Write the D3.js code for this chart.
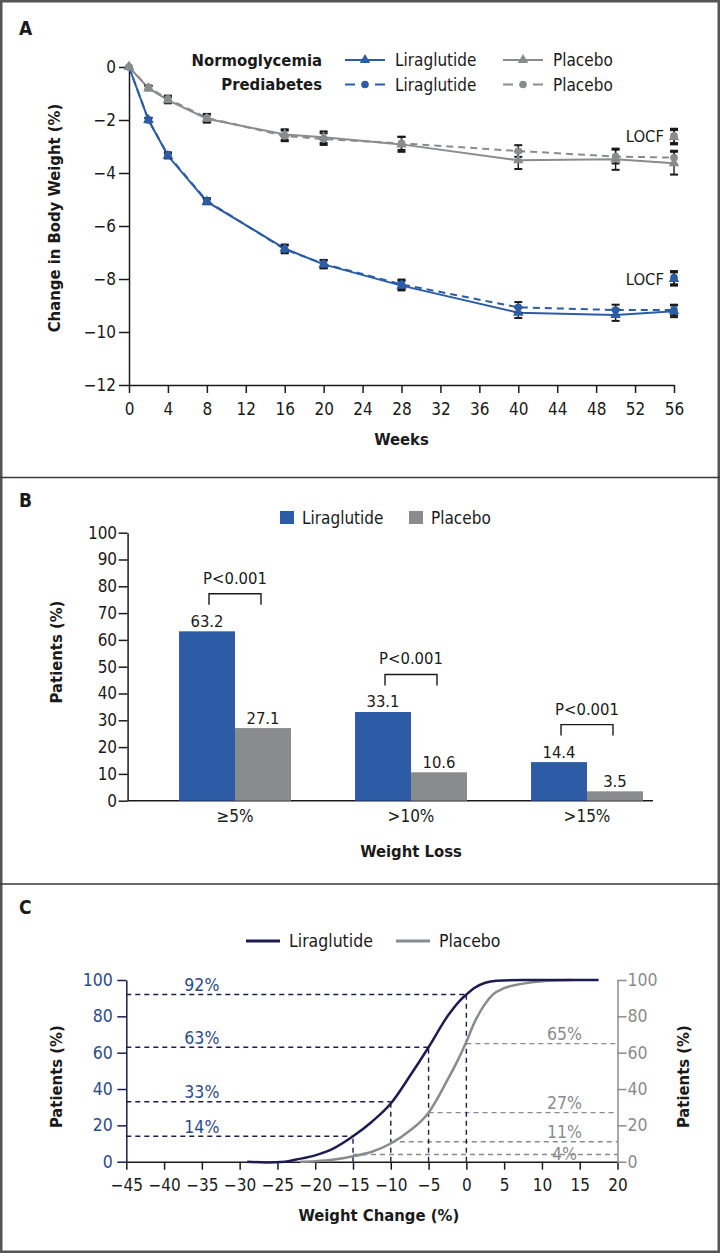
<!DOCTYPE html>
<html>
<head>
<meta charset="utf-8">
<script src="https://cdn.jsdelivr.net/npm/d3@7"></script>
<style>
body { margin: 0; background: #fff; }
svg text { font-family: "DejaVu Sans Condensed", "DejaVu Sans", sans-serif; font-stretch: condensed; }
</style>
</head>
<body>
<div id="canvas"></div>
<script>
// ---- panel A : change in body weight over time ----
var weeks = [0, 2, 4, 8, 16, 20, 28, 40, 50, 56];
var liraNormo = [0, -2.0, -3.35, -5.08, -6.85, -7.45, -8.25, -9.27, -9.36, -9.22];
var liraNormoErr = [0, 0.08, 0.1, 0.1, 0.15, 0.15, 0.18, 0.2, 0.22, 0.22];
var liraPre = [0, -2.0, -3.32, -5.05, -6.88, -7.43, -8.2, -9.07, -9.17, -9.17];
var liraPreErr = [0, 0.08, 0.1, 0.1, 0.15, 0.15, 0.18, 0.2, 0.2, 0.2];
var placeboNormo = [0, -0.8, -1.25, -1.95, -2.55, -2.65, -2.92, -3.52, -3.48, -3.63];
var placeboNormoErr = [0, 0.08, 0.12, 0.15, 0.2, 0.22, 0.28, 0.33, 0.4, 0.43];
var placeboPre = [0, -0.78, -1.2, -1.92, -2.6, -2.72, -2.88, -3.17, -3.38, -3.42];
var placeboPreErr = [0, 0.08, 0.12, 0.15, 0.2, 0.22, 0.25, 0.22, 0.26, 0.26];
var locfLira = [-8.0, -7.95];
var locfPlacebo = [-2.65, -2.6];
var locfErr = [0.25, 0.27];
var weekTicks = [0, 4, 8, 12, 16, 20, 24, 28, 32, 36, 40, 44, 48, 52, 56];
var changeTicks = [0, -2, -4, -6, -8, -10, -12];

// ---- panel B : patients reaching weight loss thresholds ----
var lossCats = ["\u22655%", ">10%", ">15%"];
var liraLoss = [63.2, 33.1, 14.4];
var placeboLoss = [27.1, 10.6, 3.5];
var pLabels = ["P<0.001", "P<0.001", "P<0.001"];
var patientTicks = [0, 10, 20, 30, 40, 50, 60, 70, 80, 90, 100];

// ---- panel C : cumulative distribution of weight change ----
var cdfLiraX = [-29, -26.5, -24, -22.5, -20, -17.5, -15, -12.5, -10, -7.5, -5, -2.5, -1, 0, 1, 2.5, 4, 7.5, 17.5];
var cdfLiraY = [0, -0.4, 0, 1.2, 3.5, 7.5, 14, 22, 32, 47, 63, 80, 88, 92, 95.5, 98.5, 99.6, 100, 100];
var cdfPlaceboX = [-22, -20, -17.5, -15, -12.5, -10, -7.5, -5, -2.5, -1, 0, 1, 2.5, 3.5, 5, 7.5, 10, 14];
var cdfPlaceboY = [0, 0.3, 1.2, 3, 5.5, 10, 17, 27, 45, 57, 66, 76, 87, 92, 95.5, 98, 99.3, 100];
var cutoffs = [-15, -10, -5, 0];
var liraAtCut = [14, 33, 63, 92];
var placeboAtCut = [4, 11, 27, 65];
var changeCTicks = [-45, -40, -35, -30, -25, -20, -15, -10, -5, 0, 5, 10, 15, 20];
var pctTicks = [0, 20, 40, 60, 80, 100];

var _width = 720;
var _height = 1253;
var _blue = "#2b5ca5";
var _gray = "#8a8b8d";
var _navy = "#1c1c52";
var _ink = "#1a1a1a";

var svg = d3.select('#canvas').append('svg')
    .attr('width', _width)
    .attr('height', _height);

// frame and separators
svg.append('rect')
    .attr('x', 1.25).attr('y', 1.25)
    .attr('width', _width - 2.5).attr('height', _height - 2.5)
    .attr('fill', 'none').attr('stroke', '#555').attr('stroke-width', 2.5);
[477.5, 884].forEach(function (yy) {
    svg.append('line').attr('x1', 0).attr('x2', _width).attr('y1', yy).attr('y2', yy)
        .attr('stroke', '#3a3a3a').attr('stroke-width', 1.5);
});

function panelLabel(t, yy) {
    svg.append('text').text(t)
        .attr('x', 19).attr('y', yy).attr('dy', '0.36em')
        .attr('font-size', 19).attr('font-weight', 'bold').attr('fill', _ink);
}

function styleAxis(g, size, color, textColor) {
    g.selectAll('.domain, .tick line').attr('stroke', color).attr('stroke-width', 1.5);
    g.selectAll('.tick text').attr('font-size', size).attr('fill', textColor || color);
}

function rotTitle(t, xx, yy) {
    svg.append('text').text(t)
        .attr('transform', 'translate(' + xx + ',' + yy + ') rotate(-90)')
        .attr('text-anchor', 'middle').attr('dy', '0.36em')
        .attr('font-size', 16.5).attr('font-weight', 'bold').attr('fill', _ink);
}

function title(t, xx, yy) {
    svg.append('text').text(t)
        .attr('x', xx).attr('y', yy).attr('dy', '0.36em')
        .attr('text-anchor', 'middle')
        .attr('font-size', 16.5).attr('font-weight', 'bold').attr('fill', _ink);
}

function label(g, t, xx, yy, size, color, anchor) {
    return g.append('text').text(t)
        .attr('x', xx).attr('y', yy).attr('dy', '0.36em')
        .attr('text-anchor', anchor || 'start')
        .attr('font-size', size).attr('fill', color);
}

// ================= A =================
panelLabel('A', 28);

var xA = d3.scaleLinear().domain([0, 56]).range([129, 674]);
var yA = d3.scaleLinear().domain([0, -12]).range([67, 385]);
var gA = svg.append('g');

var axA = gA.append('g').attr('transform', 'translate(0,' + yA(-12) + ')')
    .call(d3.axisBottom(xA).tickValues(weekTicks).tickSize(8).tickPadding(10).tickSizeOuter(0));
styleAxis(axA, 17, _ink);
var ayA = gA.append('g').attr('transform', 'translate(' + xA(0) + ',0)')
    .call(d3.axisLeft(yA).tickValues(changeTicks).tickSize(10).tickPadding(3).tickSizeOuter(0));
styleAxis(ayA, 17, _ink);

rotTitle('Change in Body Weight (%)', 54, 218);
title('Weeks', xA(28), 439);

var tri = d3.symbol().type(d3.symbolTriangle).size(48);
var circ = d3.symbol().type(d3.symbolCircle).size(46);

var seriesA = [
    {vals: liraNormo, err: liraNormoErr, color: _blue, dash: null, sym: tri, locf: locfLira[0], locfErr: locfErr[0]},
    {vals: liraPre, err: liraPreErr, color: _blue, dash: '7,5', sym: circ, locf: locfLira[1], locfErr: locfErr[0]},
    {vals: placeboNormo, err: placeboNormoErr, color: _gray, dash: null, sym: tri, locf: locfPlacebo[0], locfErr: locfErr[1]},
    {vals: placeboPre, err: placeboPreErr, color: _gray, dash: '7,5', sym: circ, locf: locfPlacebo[1], locfErr: locfErr[1]}
];

var lineA = d3.line()
    .x(function (d, i) { return xA(weeks[i]); })
    .y(function (d) { return yA(d); });

seriesA.forEach(function (s) {
    gA.append('path').datum(s.vals)
        .attr('d', lineA)
        .attr('fill', 'none')
        .attr('stroke', s.color)
        .attr('stroke-width', 2)
        .attr('stroke-dasharray', s.dash);
});

function errBar(g, xx, v, e) {
    var y1 = yA(v - e), y2 = yA(v + e);
    g.append('line').attr('x1', xx).attr('x2', xx).attr('y1', y1).attr('y2', y2)
        .attr('stroke', _ink).attr('stroke-width', 1.4);
    [y1, y2].forEach(function (yy) {
        g.append('line').attr('x1', xx - 4).attr('x2', xx + 4).attr('y1', yy).attr('y2', yy)
            .attr('stroke', _ink).attr('stroke-width', 2);
    });
}

seriesA.forEach(function (s) {
    s.vals.forEach(function (v, i) {
        if (s.err[i] > 0) errBar(gA, xA(weeks[i]), v, s.err[i]);
    });
    errBar(gA, xA(56), s.locf, s.locfErr);
});

seriesA.forEach(function (s) {
    gA.selectAll(null).data(s.vals).enter().append('path')
        .attr('d', s.sym)
        .attr('transform', function (d, i) { return 'translate(' + xA(weeks[i]) + ',' + yA(d) + ')'; })
        .attr('fill', s.color);
    gA.append('path').attr('d', s.sym)
        .attr('transform', 'translate(' + xA(56) + ',' + yA(s.locf) + ')')
        .attr('fill', s.color);
});

label(gA, 'LOCF', xA(56) - 10, yA(locfPlacebo[1]), 16.5, _ink, 'end');
label(gA, 'LOCF', xA(56) - 10, yA(locfLira[0]), 16.5, _ink, 'end');

// legend A
var legA = gA.append('g');
[['Normoglycemia', 60, null, tri], ['Prediabetes', 84.5, '10,20', circ]].forEach(function (r) {
    legA.append('text').text(r[0])
        .attr('x', 322).attr('y', r[1]).attr('dy', '0.36em')
        .attr('text-anchor', 'end').attr('font-size', 16.5).attr('font-weight', 'bold').attr('fill', _ink);
    [[345, _blue, 'Liraglutide'], [503, _gray, 'Placebo']].forEach(function (k) {
        legA.append('line').attr('x1', k[0]).attr('x2', k[0] + 40).attr('y1', r[1]).attr('y2', r[1])
            .attr('stroke', k[1]).attr('stroke-width', 2).attr('stroke-dasharray', r[2]);
        legA.append('path').attr('d', r[3])
            .attr('transform', 'translate(' + (k[0] + 20) + ',' + r[1] + ')').attr('fill', k[1]);
        label(legA, k[2], k[0] + 50, r[1], 17, _ink);
    });
});

// ================= B =================
panelLabel('B', 500);

var yB = d3.scaleLinear().domain([0, 100]).range([800.7, 532.7]);
var xB = d3.scaleBand().domain(lossCats).range([147, 675]).paddingInner(0.364).paddingOuter(0.182);
var xB1 = d3.scaleBand().domain(['Liraglutide', 'Placebo']).range([0, xB.bandwidth()]);
var gB = svg.append('g');

var ayB = gB.append('g').attr('transform', 'translate(127.6,0)')
    .call(d3.axisLeft(yB).tickValues(patientTicks).tickSize(9).tickPadding(1.5).tickSizeOuter(0));
styleAxis(ayB, 17, _ink);
var axB = gB.append('g').attr('transform', 'translate(0,' + yB(0) + ')')
    .call(d3.axisBottom(xB).tickSize(0).tickPadding(9.5));
axB.select('.domain').remove();
styleAxis(axB, 17, _ink);
gB.append('line').attr('x1', 127.6).attr('x2', 653).attr('y1', yB(0)).attr('y2', yB(0))
    .attr('stroke', _ink).attr('stroke-width', 1.5);

rotTitle('Patients (%)', 56.5, 652);
title('Weight Loss', xB(lossCats[1]) + xB.bandwidth() / 2, 851);

lossCats.forEach(function (c, i) {
    var bars = [['Liraglutide', liraLoss[i], _blue], ['Placebo', placeboLoss[i], _gray]];
    bars.forEach(function (b) {
        var bx = xB(c) + xB1(b[0]);
        gB.append('rect')
            .attr('x', bx).attr('y', yB(b[1]))
            .attr('width', xB1.bandwidth()).attr('height', yB(0) - yB(b[1]))
            .attr('fill', b[2]);
        gB.append('text').text(b[1].toFixed(1))
            .attr('x', bx + xB1.bandwidth() / 2).attr('y', yB(b[1]) - 4.5)
            .attr('text-anchor', 'middle').attr('font-size', 16.5).attr('fill', _ink);
    });
    var bx1 = xB(c) + xB1('Liraglutide') + xB1.bandwidth() / 2 + 2;
    var bx2 = xB(c) + xB1('Placebo') + xB1.bandwidth() / 2 - 2;
    var by = yB(liraLoss[i] + 14);
    gB.append('path')
        .attr('d', 'M' + bx1 + ',' + (by + 11) + 'V' + by + 'H' + bx2 + 'V' + (by + 11))
        .attr('fill', 'none').attr('stroke', _ink).attr('stroke-width', 1.4);
    gB.append('text').text(pLabels[i])
        .attr('x', (bx1 + bx2) / 2).attr('y', by - 10)
        .attr('text-anchor', 'middle').attr('font-size', 16.5).attr('fill', _ink);
});

// legend B
[[280, _blue, 'Liraglutide'], [409, _gray, 'Placebo']].forEach(function (k) {
    gB.append('rect').attr('x', k[0]).attr('y', 511).attr('width', 14).attr('height', 13).attr('fill', k[1]);
    label(gB, k[2], k[0] + 22, 517.7, 17, _ink);
});

// ================= C =================
panelLabel('C', 907);

var xC = d3.scaleLinear().domain([-45, 20]).range([126.3, 617.5]);
var yC = d3.scaleLinear().domain([0, 100]).range([1161.7, 980]);
var gC = svg.append('g');

var axC = gC.append('g').attr('transform', 'translate(0,' + yC(0) + ')')
    .call(d3.axisBottom(xC).tickValues(changeCTicks).tickSize(8).tickPadding(9).tickSizeOuter(0));
styleAxis(axC, 17, _ink);
var ayCL = gC.append('g').attr('transform', 'translate(' + xC(-45) + ',0)')
    .call(d3.axisLeft(yC).tickValues(pctTicks).tickSize(9).tickPadding(4.5).tickSizeOuter(0));
styleAxis(ayCL, 17.5, _navy, '#2b4c8c');
var ayCR = gC.append('g').attr('transform', 'translate(' + xC(20) + ',0)')
    .call(d3.axisRight(yC).tickValues(pctTicks).tickSize(9).tickPadding(1).tickSizeOuter(0));
styleAxis(ayCR, 17.5, _gray);

rotTitle('Patients (%)', 56, 1076.7);
rotTitle('Patients (%)', 683, 1076.7);
title('Weight Change (%)', 378.8, 1215);

cutoffs.forEach(function (c, i) {
    gC.append('line')
        .attr('x1', xC(-45)).attr('x2', xC(c)).attr('y1', yC(liraAtCut[i])).attr('y2', yC(liraAtCut[i]))
        .attr('stroke', _navy).attr('stroke-width', 1.4).attr('stroke-dasharray', '5,4');
    gC.append('line')
        .attr('x1', xC(c)).attr('x2', xC(c)).attr('y1', yC(0)).attr('y2', yC(liraAtCut[i]))
        .attr('stroke', _navy).attr('stroke-width', 1.4).attr('stroke-dasharray', '5,4');
    gC.append('line')
        .attr('x1', xC(c)).attr('x2', xC(20)).attr('y1', yC(placeboAtCut[i])).attr('y2', yC(placeboAtCut[i]))
        .attr('stroke', _gray).attr('stroke-width', 1.4).attr('stroke-dasharray', '5,4');
    label(gC, liraAtCut[i] + '%', xC(-35), yC(liraAtCut[i]) - 10, 17.5, '#2b4c8c', 'middle');
    var py = placeboAtCut[i] < 5 ? yC(0) - 8 : yC(placeboAtCut[i]) - 10;
    label(gC, placeboAtCut[i] + '%', xC(13), py, 17.5, _gray, 'middle');
});

var lineC = d3.line().curve(d3.curveMonotoneX);
gC.append('path')
    .datum(cdfPlaceboX.map(function (v, i) { return [xC(v), yC(cdfPlaceboY[i])]; }))
    .attr('d', lineC).attr('fill', 'none').attr('stroke', _gray).attr('stroke-width', 2.5);
gC.append('path')
    .datum(cdfLiraX.map(function (v, i) { return [xC(v), yC(cdfLiraY[i])]; }))
    .attr('d', lineC).attr('fill', 'none').attr('stroke', _navy).attr('stroke-width', 2.5);

// legend C
[[246, _navy, 'Liraglutide'], [396, _gray, 'Placebo']].forEach(function (k) {
    gC.append('line').attr('x1', k[0]).attr('x2', k[0] + 34).attr('y1', 941).attr('y2', 941)
        .attr('stroke', k[1]).attr('stroke-width', 3);
    label(gC, k[2], k[0] + 43, 941, 17.5, _ink);
});
</script>
</body>
</html>
